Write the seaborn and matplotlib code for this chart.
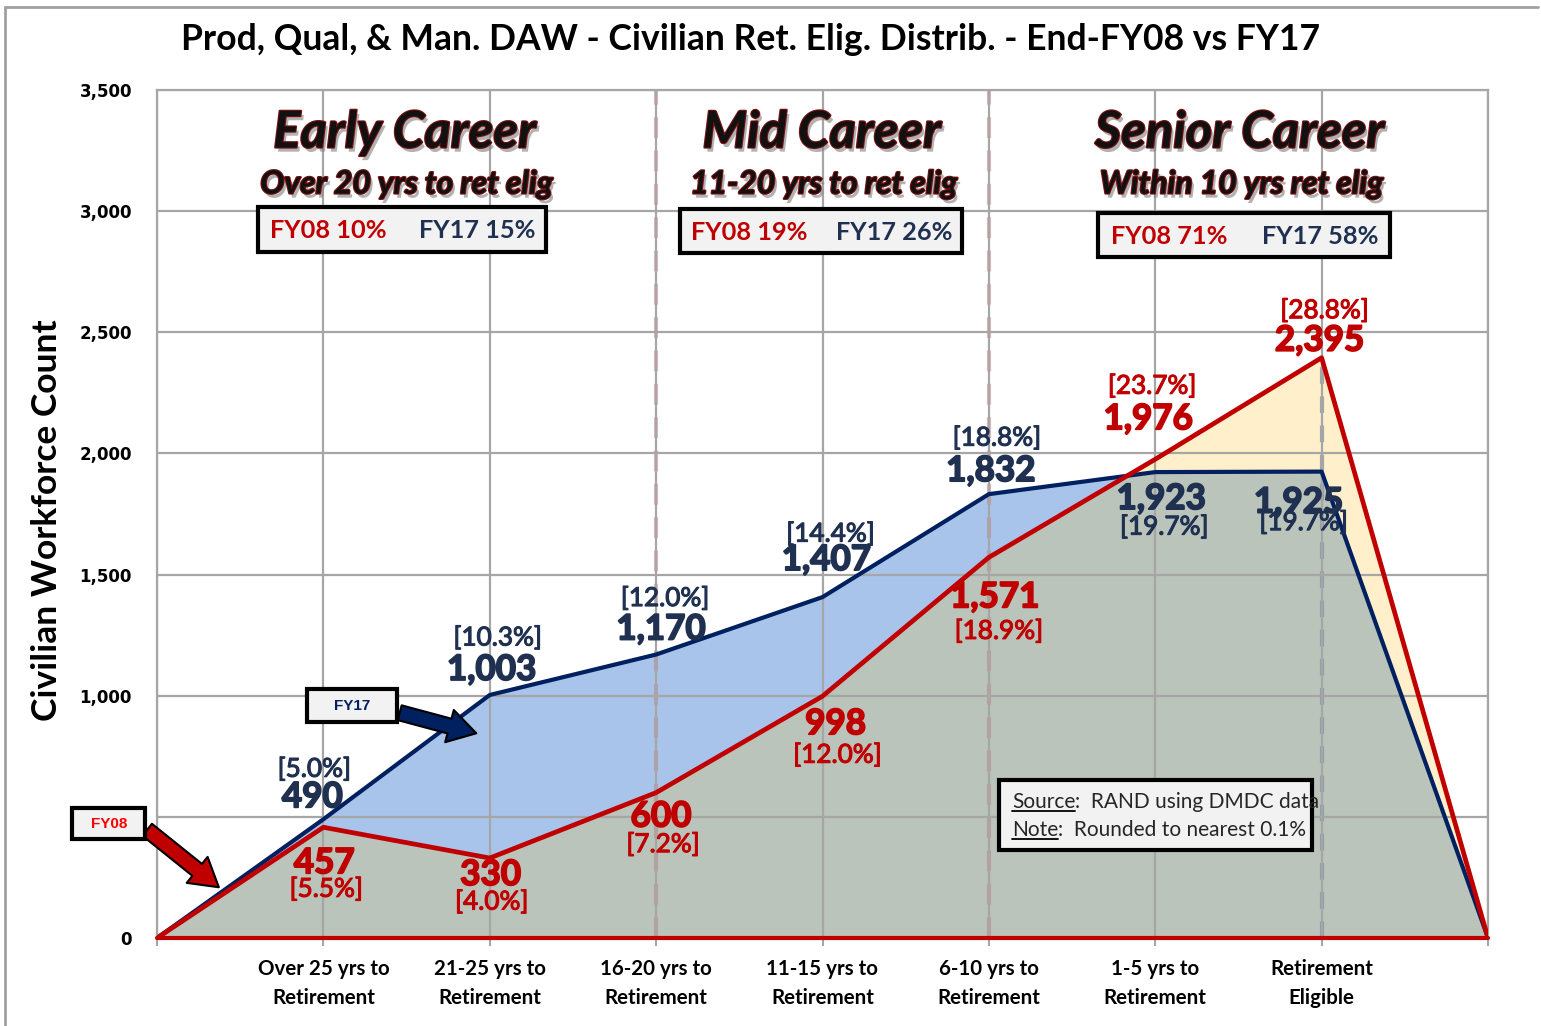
import matplotlib
matplotlib.use("Agg")
import matplotlib.pyplot as plt
import seaborn as sns
import numpy as np
import pandas as pd
from matplotlib import patheffects as pe
from matplotlib.patches import Rectangle
from matplotlib.lines import Line2D

# ---------------- data ----------------
categories = ["Over 25 yrs to\nRetirement", "21-25 yrs to\nRetirement", "16-20 yrs to\nRetirement",
              "11-15 yrs to\nRetirement", "6-10 yrs to\nRetirement", "1-5 yrs to\nRetirement",
              "Retirement\nEligible"]
fy17 = [490, 1003, 1170, 1407, 1832, 1923, 1925]
fy08 = [457, 330, 600, 998, 1571, 1976, 2395]
fy17_pct = ["[5.0%]", "[10.3%]", "[12.0%]", "[14.4%]", "[18.8%]", "[19.7%]", "[19.7%]"]
fy08_pct = ["[5.5%]", "[4.0%]", "[7.2%]", "[12.0%]", "[18.9%]", "[23.7%]", "[28.8%]"]
y_ticks = [0, 500, 1000, 1500, 2000, 2500, 3000, 3500]
sections = ["Early Career", "Mid Career", "Senior Career"]
section_sub = ["Over 20 yrs to ret elig", "11-20 yrs to ret elig", "Within 10 yrs ret elig"]
section_fy08 = ["FY08 10%", "FY08 19%", "FY08 71%"]
section_fy17 = ["FY17 15%", "FY17 26%", "FY17 58%"]

# label offsets in pixels (value label, percent label)
off17_val = [(-11, 22), (2, 25), (5, 25), (4, 37), (2, 23), (6, -27), (-23, -31)]
off17_pct = [(-9, 50), (8, 57), (9, 56), (8, 63), (8, 56), (9, -55), (-18, -51)]
off08_val = [(1, -36), (1, -17), (5, -24), (13, -28), (6, -40), (-7, 40), (-2, 17)]
off08_pct = [(3, -62), (2, -44), (7, -52), (15, -59), (10, -74), (-3, 73), (3, 47)]

NAVY = "#002060"
NAVY_TXT = "#1F3050"
RED = "#C00000"
BLUE = "#A9C4EB"
YELLOW = "#FFF0CB"
GRAY = "#BAC4BA"
GRID = "#A6A6A6"

sns.set_theme(style="white")
plt.rcParams["font.family"] = ["Lato", "DejaVu Sans"]

W, H = 1541, 1026
fig = plt.figure(figsize=(W / 100, H / 100), dpi=100)
ax = fig.add_axes([157 / W, 1 - 938 / H, (1488 - 157) / W, (938 - 90) / H])


def P(x, y):
    return (x / W, 1 - y / H)


xs = np.arange(len(fy17) + 2)
y17 = np.array([0] + fy17 + [0])
y08 = np.array([0] + fy08 + [0])
df = pd.DataFrame({"pos": np.concatenate([xs, xs]),
                   "count": np.concatenate([y17, y08]),
                   "series": ["FY17"] * len(xs) + ["FY08"] * len(xs)})

# fills
ax.fill_between(xs, 0, y17, color=GRAY, lw=0, zorder=1)
ax.fill_between(xs, 0, y08, color=GRAY, lw=0, zorder=1)
ax.fill_between(xs, y08, y17, where=y17 >= y08, interpolate=True, color=BLUE, lw=0, zorder=1.1)
ax.fill_between(xs, y17, y08, where=y08 >= y17, interpolate=True, color=YELLOW, lw=0, zorder=1.1)

# grid
ax.set_axisbelow(False)
ax.grid(True, color=GRID, lw=1.6)
for gl in ax.get_xgridlines() + ax.get_ygridlines():
    gl.set_zorder(2)
ax.axvline(3, color="#C98080", ls=(0, (5, 3)), lw=3, alpha=0.55, zorder=2.5)
ax.axvline(5, color="#C98080", ls=(0, (5, 3)), lw=3, alpha=0.55, zorder=2.5)
ax.vlines(7, 0, y08[7], color="#8893A8", ls=(0, (4, 3)), lw=3, alpha=0.8, zorder=2.5)

# lines
sns.lineplot(data=df[df.series == "FY17"], x="pos", y="count", sort=False, color=NAVY,
             lw=3.0, ax=ax, zorder=4, legend=False)
sns.lineplot(data=df[df.series == "FY08"], x="pos", y="count", sort=False, color=RED,
             lw=3.4, ax=ax, zorder=5, legend=False)
ax.axhline(0, color=RED, lw=3.0, zorder=5, clip_on=False)

ax.set_xlim(0, 8)
ax.set_ylim(0, 3500)
ax.set_xlabel("")
ax.set_ylabel("")
for s in ["left", "top", "right", "bottom"]:
    ax.spines[s].set_color(GRID)
    ax.spines[s].set_linewidth(1.6)
ax.set_xticks(xs)
ax.set_xticklabels([""] + categories + [""], fontsize=14.8, fontweight="bold", linespacing=1.55,
                   color="black")
ax.tick_params(axis="x", bottom=True, length=6, width=1.5, color=GRID, pad=9)
ax.set_yticks(y_ticks)
ax.set_yticklabels([f"{v:,}" for v in y_ticks], fontsize=12, fontweight="bold",
                   family="DejaVu Sans", color="black")
ax.tick_params(axis="y", left=False, length=0, pad=18)

# data labels
for i in range(len(fy17)):
    xp, yp = i + 1, fy17[i]
    ax.annotate(f"{fy17[i]:,}", (xp, yp), xytext=off17_val[i], textcoords="offset pixels",
                ha="center", va="center", fontsize=25.2, fontweight="bold", color=NAVY_TXT, zorder=6,
                path_effects=[pe.withStroke(linewidth=1.3, foreground=NAVY_TXT)])
    ax.annotate(fy17_pct[i], (xp, yp), xytext=off17_pct[i], textcoords="offset pixels",
                ha="center", va="center", fontsize=18.8, color=NAVY_TXT, zorder=6,
                path_effects=[pe.withStroke(linewidth=0.8, foreground=NAVY_TXT)])
    yp = fy08[i]
    ax.annotate(f"{fy08[i]:,}", (xp, yp), xytext=off08_val[i], textcoords="offset pixels",
                ha="center", va="center", fontsize=25.2, fontweight="bold", color=RED, zorder=6,
                path_effects=[pe.withStroke(linewidth=1.3, foreground=RED)])
    ax.annotate(fy08_pct[i], (xp, yp), xytext=off08_pct[i], textcoords="offset pixels",
                ha="center", va="center", fontsize=18.8, color=RED, zorder=6,
                path_effects=[pe.withStroke(linewidth=0.8, foreground=RED)])

# title and y label
fig.text(*P(751, 40), "Prod, Qual, & Man. DAW - Civilian Ret. Elig. Distrib. - End-FY08 vs FY17",
         ha="center", va="center", fontsize=25.6, fontweight="bold", color="black")
fig.text(*P(47, 520), "Civilian Workforce Count", rotation=90, ha="center", va="center",
         fontsize=25.5, fontweight="bold", color="black")

# figure frame lines
fig.add_artist(Line2D([5 / W, 5 / W], [0, 1 - 7 / H], color="#A0A0A0", lw=2))
fig.add_artist(Line2D([5 / W, 1538 / W], [1 - 7 / H, 1 - 7 / H], color="#A0A0A0", lw=2))

# section headers
head_eff = [pe.withSimplePatchShadow(offset=(2, -3), shadow_rgbFace="#808080", alpha=0.6),
            pe.Stroke(linewidth=1.6, foreground="#7A1010"), pe.Normal()]
sec_cx = [405, 822, 1240]
boxes = [(258, 207, 546, 252), (680, 209, 962, 253), (1098, 213, 1390, 257)]
for k in range(3):
    fig.text(*P(sec_cx[k], 133), sections[k], ha="center", va="center", fontsize=36.5,
             fontweight="bold", style="italic", color="#111111", path_effects=head_eff)
    fig.text(*P(sec_cx[k] + 2, 184), section_sub[k], ha="center", va="center", fontsize=23,
             fontweight="bold", style="italic", color="#111111", path_effects=head_eff)
    x0, y0, x1, y1 = boxes[k]
    fig.add_artist(Rectangle(P(x0, y1), (x1 - x0) / W, (y1 - y0) / H, facecolor="#F2F2F2",
                             edgecolor="black", lw=3, zorder=6))
    w = x1 - x0
    fig.text(*P(x0 + w * 0.245, (y0 + y1) / 2 + 1), section_fy08[k], ha="center", va="center",
             fontsize=18.3, fontweight="bold", color=RED, zorder=7)
    fig.text(*P(x0 + w * 0.76, (y0 + y1) / 2 + 1), section_fy17[k], ha="center", va="center",
             fontsize=18.3, fontweight="bold", color=NAVY_TXT, zorder=7)

# callouts
fig.add_artist(Rectangle(P(307, 722), 90 / W, 33 / H, facecolor="#F2F2F2", edgecolor="black",
                         lw=3, zorder=8))
fig.text(*P(352, 706), "FY17", ha="center", va="center", fontsize=11, fontweight="bold",
         family="Liberation Sans", color=NAVY, zorder=9)
fig.add_artist(Rectangle(P(72, 839), 73 / W, 31 / H, facecolor="#F2F2F2", edgecolor="black",
                         lw=3, zorder=8))
fig.text(*P(109, 824), "FY08", ha="center", va="center", fontsize=11, fontweight="bold",
         family="Liberation Sans", color="#FF0000", zorder=9)
ax.annotate("", xy=P(479, 734), xycoords="figure fraction", xytext=P(397, 712),
            textcoords="figure fraction",
            arrowprops=dict(arrowstyle="simple,head_length=1.0,head_width=1.2,tail_width=0.55",
                            fc=NAVY, ec="black", lw=1.5, mutation_scale=20), zorder=7,
            annotation_clip=False)
ax.annotate("", xy=P(221, 889), xycoords="figure fraction", xytext=P(145, 828),
            textcoords="figure fraction",
            arrowprops=dict(arrowstyle="simple,head_length=1.0,head_width=1.2,tail_width=0.55",
                            fc=RED, ec="black", lw=1.5, mutation_scale=20), zorder=7,
            annotation_clip=False)

# source box
fig.add_artist(Rectangle(P(999, 850), 313 / W, 70 / H, facecolor="#F2F2F2", edgecolor="black",
                         lw=3, zorder=8))
src_lab = fig.text(*P(1012, 802), "Source", ha="left", va="center", fontsize=15, zorder=9)
note_lab = fig.text(*P(1012, 830), "Note", ha="left", va="center", fontsize=15, zorder=9)
fig.canvas.draw()
r = fig.canvas.get_renderer()
for t, rest in [(src_lab, ":  RAND using DMDC data"), (note_lab, ":  Rounded to nearest 0.1%")]:
    bb = t.get_window_extent(r)
    fig.text(bb.x1 / W, t.get_position()[1], rest, ha="left", va="center", fontsize=15, zorder=9)
    fig.add_artist(Line2D([bb.x0 / W, bb.x1 / W], [(bb.y0 + 1) / H, (bb.y0 + 1) / H],
                          color="black", lw=1.3, zorder=9))

fig.savefig("out.png", dpi=100)
